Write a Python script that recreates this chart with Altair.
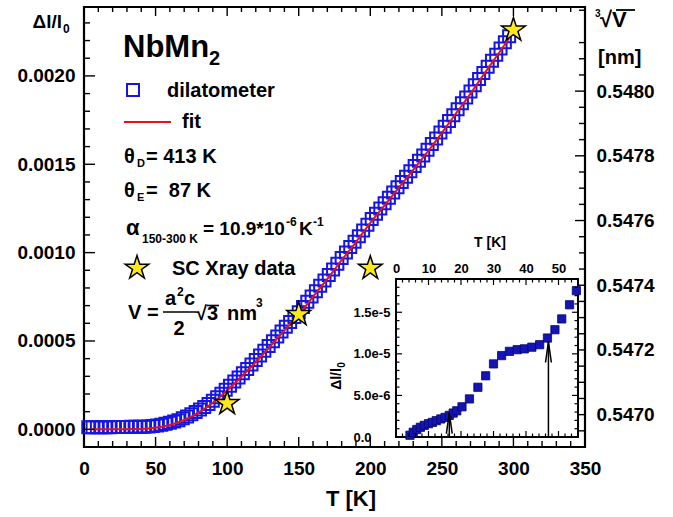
import altair as alt
import pandas as pd

FONT = "Liberation Sans"
BLUE = "#1616e0"
RED = "#e3121b"
STAR = "#ffe81a"
# five-pointed star symbol in the unit square
STAR_PATH = ("M 0 -1 L 0.2245 -0.309 L 0.951 -0.309 L 0.363 0.118 L 0.588 0.809 "
             "L 0 0.382 L -0.588 0.809 L -0.363 0.118 L -0.951 -0.309 L -0.2245 -0.309 Z")

# ---- dilatometer run: temperature [K], relative length change in units of 1e-6 ----
dil_T = [3, 6, 9, 12, 15, 18, 21, 24, 27, 30, 33, 36, 39, 42, 45,
         48, 51, 54, 57, 60, 63, 66, 69, 72, 75,
         78, 81, 84, 87, 90, 93, 96, 99, 102, 105,
         108, 111, 114, 117, 120, 123, 126, 129, 132, 135,
         138, 141, 144, 147, 150, 153, 156, 159, 162, 165,
         168, 171, 174, 177, 180, 183, 186, 189, 192, 195,
         198, 201, 204, 207, 210, 213, 216, 219, 222, 225,
         228, 231, 234, 237, 240, 243, 246, 249, 252, 255,
         258, 261, 264, 267, 270, 273, 276, 279, 282, 285,
         288, 291, 294, 297]
dil_ppm = [12, 12, 12, 12, 12, 12, 13, 13, 13, 13, 14, 14, 15, 15, 16,
           19, 22, 26, 31, 37, 44, 52, 62, 73, 85,
           98, 112, 127, 143, 162, 182, 202, 224, 247, 270,
           294, 318, 342, 367, 392, 418, 444, 471, 498, 525,
           553, 580, 608, 635, 662, 692, 722, 752, 782, 812,
           842, 873, 905, 937, 969, 1000, 1032, 1062, 1092, 1125,
           1158, 1190, 1220, 1250, 1280, 1310, 1340, 1370, 1400, 1430,
           1460, 1490, 1520, 1550, 1582, 1614, 1646, 1680, 1712, 1745,
           1778, 1812, 1845, 1878, 1912, 1947, 1982, 2017, 2052, 2086,
           2120, 2155, 2190, 2225]

# ---- Debye/Einstein fit curve ----
fit_T = [4, 10, 20, 30, 40, 50, 60, 70, 80, 90, 100, 110, 120, 130, 140, 150,
         160, 170, 180, 190, 200, 210, 220, 230, 240, 250, 260, 270, 280, 290, 297]
fit_ppm = [0, 0, 0, 1, 2, 9, 25, 53, 95, 150, 220, 298, 380, 468, 559, 650,
           750, 851, 957, 1060, 1168, 1268, 1368, 1468, 1570, 1678, 1789, 1900, 2017, 2131, 2213]

# ---- single-crystal X-ray points ----
xray_T = [100, 150, 200, 300]
xray_ppm = [147, 650, 912, 2260]

# ---- low-temperature detail (inset) ----
ins_T = [4.3, 5.3, 6.4, 7.5, 8.7, 10.0, 11.2, 12.4, 13.8, 15.1, 16.4, 17.6, 18.7,
         20.3, 22.6, 25.2, 27.6, 30.0, 32.5, 34.9, 37.3, 39.5, 41.8, 44.2, 46.6,
         48.9, 51.0, 53.4, 55.5]
ins_ppm = [0.21, 0.57, 0.90, 1.17, 1.40, 1.60, 1.76, 1.96, 2.17, 2.36, 2.60, 2.88, 3.15,
           3.63, 4.58, 5.98, 7.36, 8.79, 9.79, 10.3, 10.5, 10.6, 10.8, 11.1, 11.9,
           12.9, 14.2, 15.9, 17.6]
arrow_T = [16.4, 46.9]
arrow_ppm = [2.9, 11.46]

# ---- axis label positions ----
x_labels = [0, 50, 100, 150, 200, 250, 300, 350]
y_labels = [0.0, 0.0005, 0.0010, 0.0015, 0.0020]
r_labels = [0.5470, 0.5472, 0.5474, 0.5476, 0.5478, 0.5480]
ix_labels = [0, 10, 20, 30, 40, 50]
iy_labels = [0.0, 5e-6, 1e-5, 1.5e-5]

x_minor = [t for t in range(0, 351, 10) if t % 50]
y_minor = [k * 1e-4 for k in range(-1, 24) if k % 5]
r_minor = [k / 1e5 for k in range(54690, 54826, 5) if k % 20]
ix_minor = [t for t in range(2, 56, 2) if t % 10]
iy_minor = [k * 1e-6 for k in range(1, 19) if k % 5]

W, H = 501, 440
IX0, IX1, IY0, IY1 = 312, 494, 430, 272   # inset box inside the plot area
INS_TMAX, INS_YMAX = 56, 1.9e-5


def xs():
    return alt.Scale(domain=[0, 350], nice=False, zero=False)


def ys():
    return alt.Scale(domain=[-0.0001, 0.00239], nice=False, zero=False)


def rs():
    return alt.Scale(domain=[0.5469, 0.54826], nice=False, zero=False)


def ixs():
    return alt.Scale(domain=[0, INS_TMAX], range=[IX0, IX1], nice=False, zero=False)


def iys():
    return alt.Scale(domain=[0, INS_YMAX], range=[IY0, IY1], nice=False, zero=False)


ONE = alt.Data(values=[{"k": 0}])


def axis(orient, values, size, pad, fmt=None, **kw):
    a = dict(orient=orient, values=values, ticks=False, domain=False,
             grid=False, title=None, labelFont=FONT, labelFontWeight="bold",
             labelFontSize=size, labelColor="black", labelPadding=pad,
             labelFlush=False, labelOverlap=False)
    if fmt:
        a["format"] = fmt
    a.update(kw)
    return alt.Axis(**a)


def ticks_x(values, scale, y0, length, width=1.4):
    return alt.Chart(pd.DataFrame({"v": values})).mark_rule(
        color="black", strokeWidth=width).encode(
        x=alt.X("v:Q", scale=scale, axis=None),
        y=alt.value(y0), y2=alt.value(y0 + length))


def ticks_y(values, scale, x0, length, ax=None, width=1.4):
    return alt.Chart(pd.DataFrame({"v": values})).mark_rule(
        color="black", strokeWidth=width).encode(
        y=alt.Y("v:Q", scale=scale, axis=ax),
        x=alt.value(x0), x2=alt.value(x0 + length))


def txt(s, x, y, size=20, align="left", baseline="alphabetic", angle=None):
    kw = dict(text=s, align=align, baseline=baseline, font=FONT,
              fontWeight="bold", fontSize=size, color="black")
    if angle is not None:
        kw["angle"] = angle
    return alt.Chart(ONE).mark_text(**kw).encode(x=alt.value(x), y=alt.value(y))


def seg(x1, y1, x2, y2, color="black", width=1.5):
    return alt.Chart(ONE).mark_rule(color=color, strokeWidth=width).encode(
        x=alt.value(x1), y=alt.value(y1), x2=alt.value(x2), y2=alt.value(y2))


# ---- main panel ----
dil = alt.Chart(pd.DataFrame({"T": dil_T, "dl": [v * 1e-6 for v in dil_ppm]})).mark_point(
    shape="square", filled=False, color=BLUE, size=144, strokeWidth=2, opacity=1).encode(
    x=alt.X("T:Q", scale=xs(), axis=axis("bottom", x_labels, 19, 12)),
    y=alt.Y("dl:Q", scale=ys(), axis=axis("left", y_labels, 19, 9, ".4f")))

fit = alt.Chart(pd.DataFrame({"T": fit_T, "dl": [v * 1e-6 for v in fit_ppm]})).mark_line(
    color=RED, strokeWidth=2, interpolate="monotone").encode(
    x=alt.X("T:Q", scale=xs(), axis=None), y=alt.Y("dl:Q", scale=ys(), axis=None))

xray = alt.Chart(pd.DataFrame({"T": xray_T, "dl": [v * 1e-6 for v in xray_ppm]})).mark_point(
    shape=STAR_PATH, filled=True, fill=STAR, stroke="black", strokeWidth=1.5,
    size=620, opacity=1).encode(
    x=alt.X("T:Q", scale=xs(), axis=None), y=alt.Y("dl:Q", scale=ys(), axis=None))

main_parts = [
    dil, fit, xray,
    ticks_x(x_labels, xs(), H, -10), ticks_x(x_minor, xs(), H, -6),
    ticks_x(x_labels, xs(), 0, 9), ticks_x(x_minor, xs(), 0, 5),
    ticks_y(y_labels, ys(), 0, 11), ticks_y(y_minor, ys(), 0, 6),
]

# ---- right-hand cube-root-volume axis ----
right_parts = [
    ticks_y(r_labels, rs(), W, -10, ax=axis("right", r_labels, 19, 11, ".4f")),
    ticks_y(r_minor, rs(), W, -6),
]

# ---- inset ----
frame = alt.Chart(pd.DataFrame({"a": [0], "b": [INS_TMAX], "c": [0], "d": [INS_YMAX]})).mark_rect(
    fill="white", stroke="black", strokeWidth=2).encode(
    x=alt.X("a:Q", scale=ixs(), axis=None), x2="b",
    y=alt.Y("c:Q", scale=iys(), axis=None), y2="d")

ins_pts = alt.Chart(pd.DataFrame({"T": ins_T, "dl": [v * 1e-6 for v in ins_ppm]})).mark_point(
    shape="square", filled=True, fill="#1414b4", stroke="#06066e", strokeWidth=0.8,
    size=68, opacity=1).encode(
    x=alt.X("T:Q", scale=ixs(), axis=axis("top", ix_labels, 13, 4, offset=-IY1)),
    y=alt.Y("dl:Q", scale=iys(),
            axis=axis("left", iy_labels, 13, 43, ".1e", offset=-IX0, labelAlign="left",
                      labelExpr="datum.value == 0 ? '0.0' : format(datum.value, '.1e')")))

arrows_df = pd.DataFrame({"T": arrow_T, "tip": [v * 1e-6 for v in arrow_ppm]})
shafts = alt.Chart(arrows_df).transform_calculate(base="0").mark_rule(
    color="black", strokeWidth=1.5).encode(
    x=alt.X("T:Q", scale=ixs(), axis=None),
    y=alt.Y("base:Q", scale=iys(), axis=None), y2="tip")


def head(side):
    # open arrow head: two short strokes ending at the arrow tip
    return alt.Chart(arrows_df).transform_calculate(
        hx=f"datum.T + ({side}) * 0.9", hy="datum.tip - 2.5e-6"
    ).mark_rule(color="black", strokeWidth=1.5).encode(
        x=alt.X("hx:Q", scale=ixs(), axis=None), x2="T",
        y=alt.Y("hy:Q", scale=iys(), axis=None), y2="tip")


inset_parts = [
    frame, ins_pts, shafts, head(-1), head(1),
    ticks_x(ix_labels, ixs(), IY0, -6, 1.2), ticks_x(ix_minor, ixs(), IY0, -3.5, 1.2),
    ticks_x(ix_labels, ixs(), IY1, 6, 1.2), ticks_x(ix_minor, ixs(), IY1, 3.5, 1.2),
    ticks_y(iy_labels, iys(), IX0, 6, width=1.2), ticks_y(iy_minor, iys(), IX0, 3.5, width=1.2),
    ticks_y(iy_labels, iys(), IX1, -6, width=1.2), ticks_y(iy_minor, iys(), IX1, -3.5, width=1.2),
]

# ---- titles, legend and annotations ----
sq_key = alt.Chart(ONE).mark_point(shape="square", filled=False, color=BLUE, size=144,
                                   strokeWidth=2, opacity=1).encode(
    x=alt.value(49), y=alt.value(83))
star_key = alt.Chart(ONE).mark_point(shape=STAR_PATH, filled=True, fill=STAR, stroke="black",
                                     strokeWidth=1.5, size=620, opacity=1).encode(
    x=alt.value(53), y=alt.value(261))

notes = [
    txt("Δl/l", -22, 21, 19, align="right"), txt("0", -21, 26, 12),
    txt("√V", 516, 20, 22), txt("3", 511, 10, 10), seg(532, 3, 551, 3, width=1.8),
    txt("[nm]", 514, 57, 20),
    txt("T [K]", 267, 499, 22, align="center"),
    txt("NbMn", 39, 50, 31), txt("2", 125, 58, 20),
    sq_key, txt("dilatometer", 83, 90, 20),
    seg(40, 115, 87, 115, color=RED, width=2), txt("fit", 98, 121, 20),
    txt("θ", 40, 156, 20), txt("D", 53, 160, 11), txt("= 413 K", 62, 156, 20),
    txt("θ", 40, 190, 20), txt("E", 53, 194, 11), txt("=\u00a0\u00a087 K", 62, 190, 20),
    txt("α", 42, 228, 22), txt("150-300 K", 58, 236, 12), txt("= 10.9*10", 119, 228, 19),
    txt("-6", 202, 219, 12), txt("K", 215, 228, 19), txt("-1", 229, 219, 12),
    star_key, txt("SC Xray data", 88, 268, 20),
    txt("V =", 44, 312, 20), txt("a", 81, 298, 20), txt("2", 93, 289, 12), txt("c", 100, 298, 20),
    seg(79, 305, 112, 305), txt("2", 95, 328, 20, align="center"),
    txt("√3", 112, 313, 20), seg(123, 298.5, 135, 298.5, width=1.6),
    txt("nm", 143, 313, 20), txt("3", 172, 300, 12),
    txt("T [K]", 406, 236, 14, align="center", baseline="middle"),
    txt("Δl/l", 253, 372, 14, align="center", baseline="middle", angle=270),
    txt("0", 258, 358, 10, align="center", baseline="middle", angle=270),
]

chart = alt.layer(*main_parts, *right_parts, *inset_parts, *notes).resolve_scale(
    x="independent", y="independent"
).properties(
    width=W, height=H,
    padding={"left": 84, "top": 7, "right": 88, "bottom": 70},
    autosize=alt.AutoSizeParams(type="none"),
).configure_view(stroke="black", strokeWidth=2.2)

chart.save("out.html", embed_options={"renderer": "svg", "actions": False})
